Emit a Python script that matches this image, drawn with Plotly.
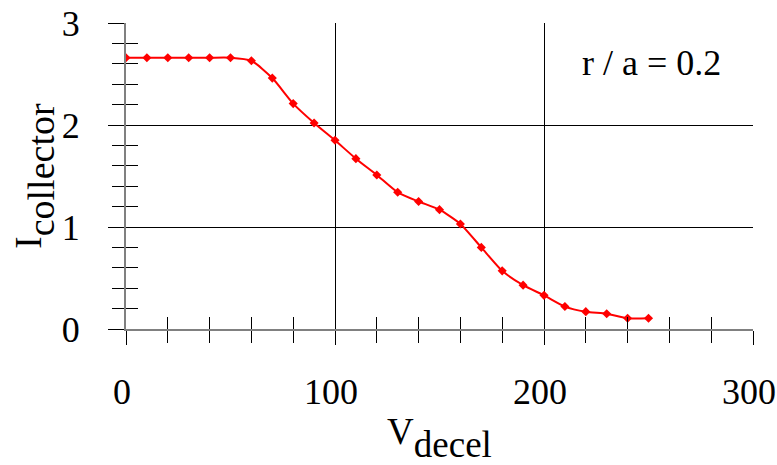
import plotly.graph_objects as go

v_decel = [0, 10, 20, 30, 40, 50, 60, 70, 80, 90, 100, 110, 120, 130, 140, 150,
           160, 170, 180, 190, 200, 210, 220, 230, 240, 250]
i_collector = [2.66, 2.66, 2.66, 2.66, 2.66, 2.66, 2.63, 2.46, 2.21, 2.02, 1.85,
               1.67, 1.51, 1.34, 1.25, 1.17, 1.03, 0.80, 0.57, 0.43, 0.33, 0.22,
               0.17, 0.15, 0.105, 0.105]

x_range = [0, 300]
y_range = [0, 3]
annotation_text = "r / a = 0.2"
x_title = 'V<sub><sub><span style="font-size:37px">decel</span></sub></sub>'
y_title = 'I<sub><sub><span style="font-size:38px">collector</span></sub></sub>'

FONT = "Liberation Serif, Times New Roman, serif"
FS = 36

fig = go.Figure()
fig.add_trace(go.Scatter(
    x=v_decel, y=i_collector, mode="lines+markers",
    line=dict(color="#ff0000", width=2, shape="spline", smoothing=0.6),
    marker=dict(symbol="diamond", size=7, color="#ff0000"),
    showlegend=False, hoverinfo="skip"))
# helper trace for the overlay axes (inside ticks)
fig.add_trace(go.Scatter(x=[None], y=[None], xaxis="x2", yaxis="y2",
                         showlegend=False, hoverinfo="skip"))

common = dict(showgrid=True, gridcolor="#000000", gridwidth=1, zeroline=False,
              automargin=False)

fig.update_layout(
    width=777, height=465,
    margin=dict(l=126, r=24, t=23, b=136),
    paper_bgcolor="white", plot_bgcolor="white",
    font=dict(family=FONT, size=FS, color="black"),
    xaxis=dict(range=x_range, dtick=100, tick0=0, **common,
               showline=True, linecolor="#808080", linewidth=2,
               ticks="outside", ticklen=14, tickwidth=1, tickcolor="black",
               minor=dict(dtick=20, ticks="outside", ticklen=12, tickwidth=1,
                          tickcolor="black", showgrid=False),
               tickfont=dict(family=FONT, size=FS),
               ticklabelstandoff=16, ticklabelshift=-4,
               ticklabeloverflow="allow",
               title=dict(text=x_title, font=dict(family=FONT, size=37),
                          standoff=18)),
    yaxis=dict(range=y_range, dtick=1, tick0=0, **common,
               showline=True, linecolor="#808080", linewidth=2,
               ticks="outside", ticklen=16, tickwidth=1, tickcolor="black",
               minor=dict(dtick=0.2, ticks="outside", ticklen=12, tickwidth=1,
                          tickcolor="black", showgrid=False),
               tickfont=dict(family=FONT, size=FS),
               ticklabelstandoff=21, ticklabeloverflow="allow",
               title=dict(text=y_title, font=dict(family=FONT, size=37),
                          standoff=9)),
    xaxis2=dict(range=x_range, overlaying="x", anchor="y2", side="bottom",
                showgrid=False, zeroline=False, showticklabels=False,
                automargin=False,
                dtick=100, tick0=0, ticks="inside", ticklen=13, tickcolor="black",
                minor=dict(dtick=20, ticks="inside", ticklen=12, tickwidth=1,
                           tickcolor="black", showgrid=False)),
    yaxis2=dict(range=y_range, overlaying="y", anchor="x2", side="left",
                showgrid=False, zeroline=False, showticklabels=False,
                automargin=False,
                dtick=1, tick0=0, ticks="inside", ticklen=13, tickcolor="black",
                minor=dict(dtick=0.2, ticks="inside", ticklen=12, tickwidth=1,
                           tickcolor="black", showgrid=False)),
    annotations=[dict(text=annotation_text, xref="paper", yref="paper",
                      x=0.952, y=0.87, xanchor="right", yanchor="middle",
                      showarrow=False, font=dict(family=FONT, size=FS))],
)

fig.write_html("out.html",
               config={"displayModeBar": False},
               post_script="document.body.style.margin='0';"
                           "document.body.style.overflow='hidden';")
